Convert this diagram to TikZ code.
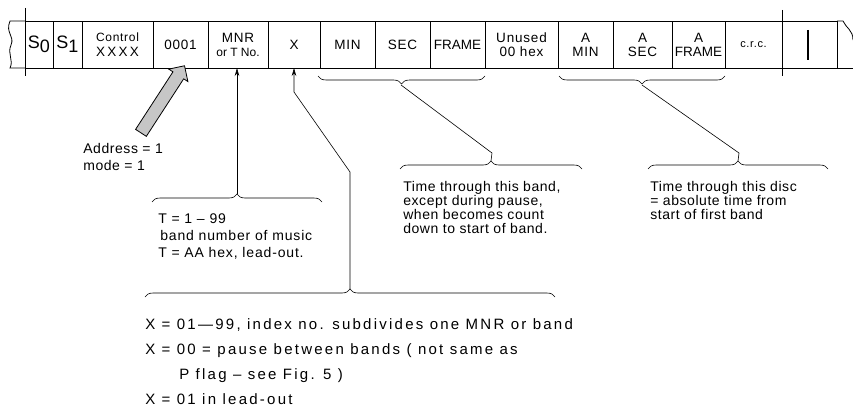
\documentclass[tikz,border=0pt]{standalone}
\usepackage{fontspec}
\setmainfont{Liberation Sans}
\usetikzlibrary{positioning, shapes.arrows, decorations.pathreplacing, arrows.meta, calc}

\begin{document}
\begin{tikzpicture}[
    x=1pt, y=-1pt, line width=0.6pt,
    cell/.style={rectangle, draw, line width=0.8pt, minimum height=47pt, inner sep=0pt, outer sep=0pt, align=center,
                 font=\fontsize{13.5}{14}\selectfont\addfontfeatures{LetterSpace=6}},
    note/.style={align=left, anchor=north west, inner sep=0pt, font=\fontsize{14}{14}\selectfont\addfontfeatures{LetterSpace=4}},
    arrow/.style={->,>={Stealth[length=8pt,width=4.5pt]}},
    brace/.style={decorate, decoration={brace, amplitude=8pt}}
]
\useasboundingbox (0,0) rectangle (853,412);

% Sub-code frame
\node[cell, minimum width=28pt, anchor=north west] (s0) at (25,21) {\fontsize{18}{18}\selectfont S\raisebox{-4pt}{0}};
\node[cell, minimum width=29pt, right=0pt of s0] (s1) {\fontsize{18}{18}\selectfont S\raisebox{-4pt}{1}};
\node[cell, minimum width=71pt, right=0pt of s1] (control) {{\fontsize{12}{12}\selectfont Control}\\[1pt]X\,X\,X\,X};
\node[cell, minimum width=55pt, right=0pt of control] (addr) {0001};
\node[cell, minimum width=60pt, right=0pt of addr] (mnr) {MNR\\{\fontsize{12}{12}\selectfont\addfontfeatures{LetterSpace=0}or T No.}};
\node[cell, minimum width=52pt, right=0pt of mnr] (xcell) {X};
\node[cell, minimum width=55pt, right=0pt of xcell] (min) {MIN};
\node[cell, minimum width=55pt, right=0pt of min] (sec) {SEC};
\node[cell, minimum width=55pt, right=0pt of sec] (frame) {\addfontfeatures{LetterSpace=0}FRAME};
\node[cell, minimum width=73pt, right=0pt of frame] (unused) {Unused\\00 hex};
\node[cell, minimum width=55pt, right=0pt of unused] (amin) {A\\MIN};
\node[cell, minimum width=59pt, right=0pt of amin] (asec) {A\\SEC};
\node[cell, minimum width=53pt, right=0pt of asec] (aframe) {A\\\addfontfeatures{LetterSpace=0}FRAME};
\node[cell, minimum width=57pt, right=0pt of aframe] (crc) {\fontsize{11}{12}\selectfont c.r.c.};
\node[cell, minimum width=55pt, right=0pt of crc] (blank) {};

% broken ends and frame marks
\draw[line width=0.8pt] (s0.north west) -- (10,21) .. controls (5,33) and (15,36) .. (11,45)
      .. controls (7,54) and (14,60) .. (10,68) -- (s0.south west);
\draw[line width=0.8pt] (blank.north east) -- (843,21) .. controls (846,28) and (853,30) .. (853,40);
\draw[line width=0.8pt] (blank.south east) -- (853,68);
\draw (25,8) -- (25,76);
\draw (782,10) -- (782,76);
\draw[line width=1.5pt] (808,30) -- (808,60);

% Address pointer
\node[single arrow, draw, line width=0.8pt, fill=gray!45, minimum height=80pt, inner sep=6pt,
      single arrow head extend=5pt, rotate=57] (addrarrow) at (161,102) {};
\node[note] (addrnote) at (83,143) {Address = 1\\[3pt]mode = 1};

% Braces
\coordinate (b1tip) at (401,85);
\coordinate (b1bend) at (492,153);
\coordinate (b3tip) at (491,161);
\coordinate (b2tip) at (642,85);
\coordinate (b2bend) at (739,153);
\coordinate (b4tip) at (738,161);
\coordinate (ttip) at (237,194);
\coordinate (xtip) at (350,289);
\coordinate (xbend1) at (350,172);
\coordinate (xbend2) at (294,92);

\draw[brace] (485,76) -- (318,76);
\draw[brace] (725,76) -- (559,76);
\draw[brace] (400,169) -- (582,169);
\draw[brace] (648,169) -- (828,169);
\draw[brace] (152,202) -- (322,202);
\draw[brace] (145,297) -- (555,297);

\draw (b1tip) -- (b1bend) -- (b3tip);
\draw (b2tip) -- (b2bend) -- (b4tip);
\draw[arrow] (ttip) -- (ttip |- mnr.south);
\draw[arrow] (xtip) -- (xbend1) -- (xbend2) -- (xcell.south);

% Notes
\node[note] (bandnote) at (403,181) {Time through this band,\\except during pause,\\when becomes count\\down to start of band.};
\node[note] (discnote) at (650,181) {Time through this disc\\= absolute time from\\start of first band};
\node[note, font=\fontsize{14}{17}\selectfont\addfontfeatures{LetterSpace=6}] (tnote) at (158,213) {T = 1 -- 99\\\hspace{2pt}band number of music\\T = AA hex, lead-out.};
\node[note, font=\fontsize{15}{25}\selectfont\addfontfeatures{LetterSpace=15}] (xnote) at (145,318)
  {X = 01—99, index no. subdivides one MNR or band\\
   X = 00 = pause between bands ( not same as\\
   \hspace{34pt}P flag -- see Fig. 5 )\\
   X = 01 in lead-out};

\end{tikzpicture}
\end{document}
